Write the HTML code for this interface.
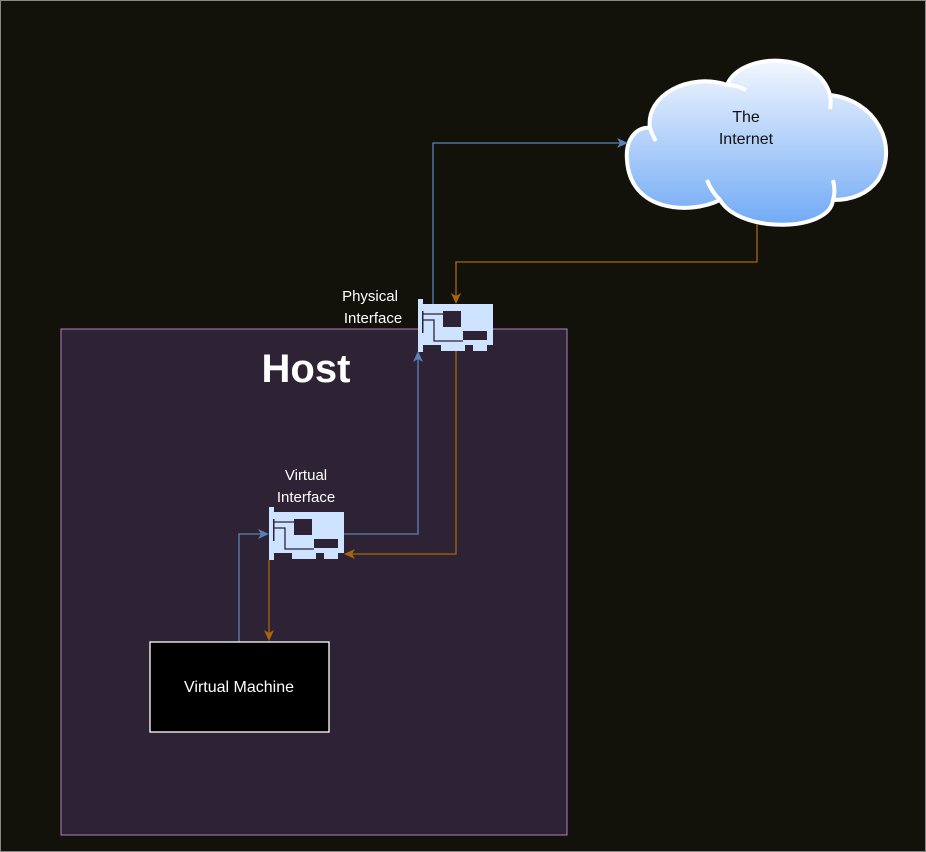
<!DOCTYPE html>
<html><head><style>
html,body{margin:0;padding:0;background:#12110a;}
svg{display:block;}
</style></head><body>
<svg width="926" height="852" viewBox="0 0 926 852" xmlns="http://www.w3.org/2000/svg" font-family="Liberation Sans, Arial, sans-serif">
<defs>
<linearGradient id="g" x1="0" y1="0" x2="0" y2="1">
<stop offset="0" stop-color="#f2f7fe"/><stop offset="1" stop-color="#71aaf5"/>
</linearGradient>
<g id="nic">
<rect x="0" y="0" width="5" height="53" fill="#cde3ff"/>
<rect x="4" y="5" width="71" height="41" fill="#cde3ff"/>
<rect x="23" y="45" width="24" height="7" fill="#cde3ff"/>
<rect x="55" y="45" width="14" height="7" fill="#cde3ff"/>
<rect x="25" y="12" width="18" height="16" fill="#2e2335"/>
<rect x="45" y="32" width="24" height="9" fill="#2e2335"/>
<path d="M5 15 H25 M5 21 H16 V42 H45" stroke="#2e2335" stroke-width="1.3" fill="none"/>
<rect x="4" y="12" width="1.5" height="22" fill="#2e2335"/>
</g>
</defs>
<rect x="0.5" y="0.5" width="925" height="851" fill="#12110a" stroke="#888" stroke-width="1"/>
<rect x="61" y="329" width="506" height="506" fill="#2e2335" stroke="#a582c4" stroke-width="1"/>
<text x="306" y="382" font-size="40" font-weight="bold" fill="#fff" text-anchor="middle">Host</text>

<!-- cloud -->
<path d="M720 200 C690 215 630 212 627 160 C625 138 638 126 650 128 C645 95 690 72 727 85 C740 52 818 50 830 95 C875 100 900 145 878 180 C866 196 848 200 833 200 C830 232 740 234 720 200 Z" fill="url(#g)" stroke="#fff" stroke-width="4"/>
<path d="M650 128 C652 134 654 138 656 141 M727 85 C735 85 740 87 746 90 M830 95 C831 100 831 104 830 109 M707 180 C710 188 714 194 720 200 M833 180 C835 188 835 194 833 200" stroke="#fff" stroke-width="4" fill="none"/>
<text x="746" y="122" font-size="16" fill="#111" text-anchor="middle">The</text>
<text x="746" y="144" font-size="16" fill="#111" text-anchor="middle">Internet</text>

<!-- connectors -->
<g fill="none" stroke-width="1.3">
<path d="M433 304 V143 H620" stroke="#5b82b8"/>
<path d="M757 224 V262 H456 V297" stroke="#a8660a"/>
<path d="M456 346 V554 H351" stroke="#a8660a"/>
<path d="M344 534 H418 V359" stroke="#5b82b8"/>
<path d="M239 642 V534 H262" stroke="#5b82b8"/>
<path d="M269 560 V634" stroke="#a8660a"/>
</g>
<path d="M628 143 L617 138 L620 143 L617 148 Z" fill="#5b82b8"/>
<path d="M456 304 L451 293 L456 296 L461 293 Z" fill="#a8660a"/>
<path d="M344 554 L355 549 L352 554 L355 559 Z" fill="#a8660a"/>
<path d="M418 351 L413 362 L418 359 L423 362 Z" fill="#5b82b8"/>
<path d="M269 534 L258 529 L261 534 L258 539 Z" fill="#5b82b8"/>
<path d="M269 641 L264 630 L269 633 L274 630 Z" fill="#a8660a"/>

<use href="#nic" x="418" y="299"/>
<use href="#nic" x="269" y="507"/>

<text x="370" y="301" font-size="15" fill="#fff" text-anchor="middle">Physical</text>
<text x="373" y="323" font-size="15" fill="#fff" text-anchor="middle">Interface</text>
<text x="306" y="480" font-size="15" fill="#fff" text-anchor="middle">Virtual</text>
<text x="306" y="502" font-size="15" fill="#fff" text-anchor="middle">Interface</text>

<rect x="150" y="642" width="179" height="90" fill="#000" stroke="#fff" stroke-width="1.3"/>
<text x="239" y="692" font-size="16" fill="#fff" text-anchor="middle">Virtual Machine</text>
</svg>
</body></html>
